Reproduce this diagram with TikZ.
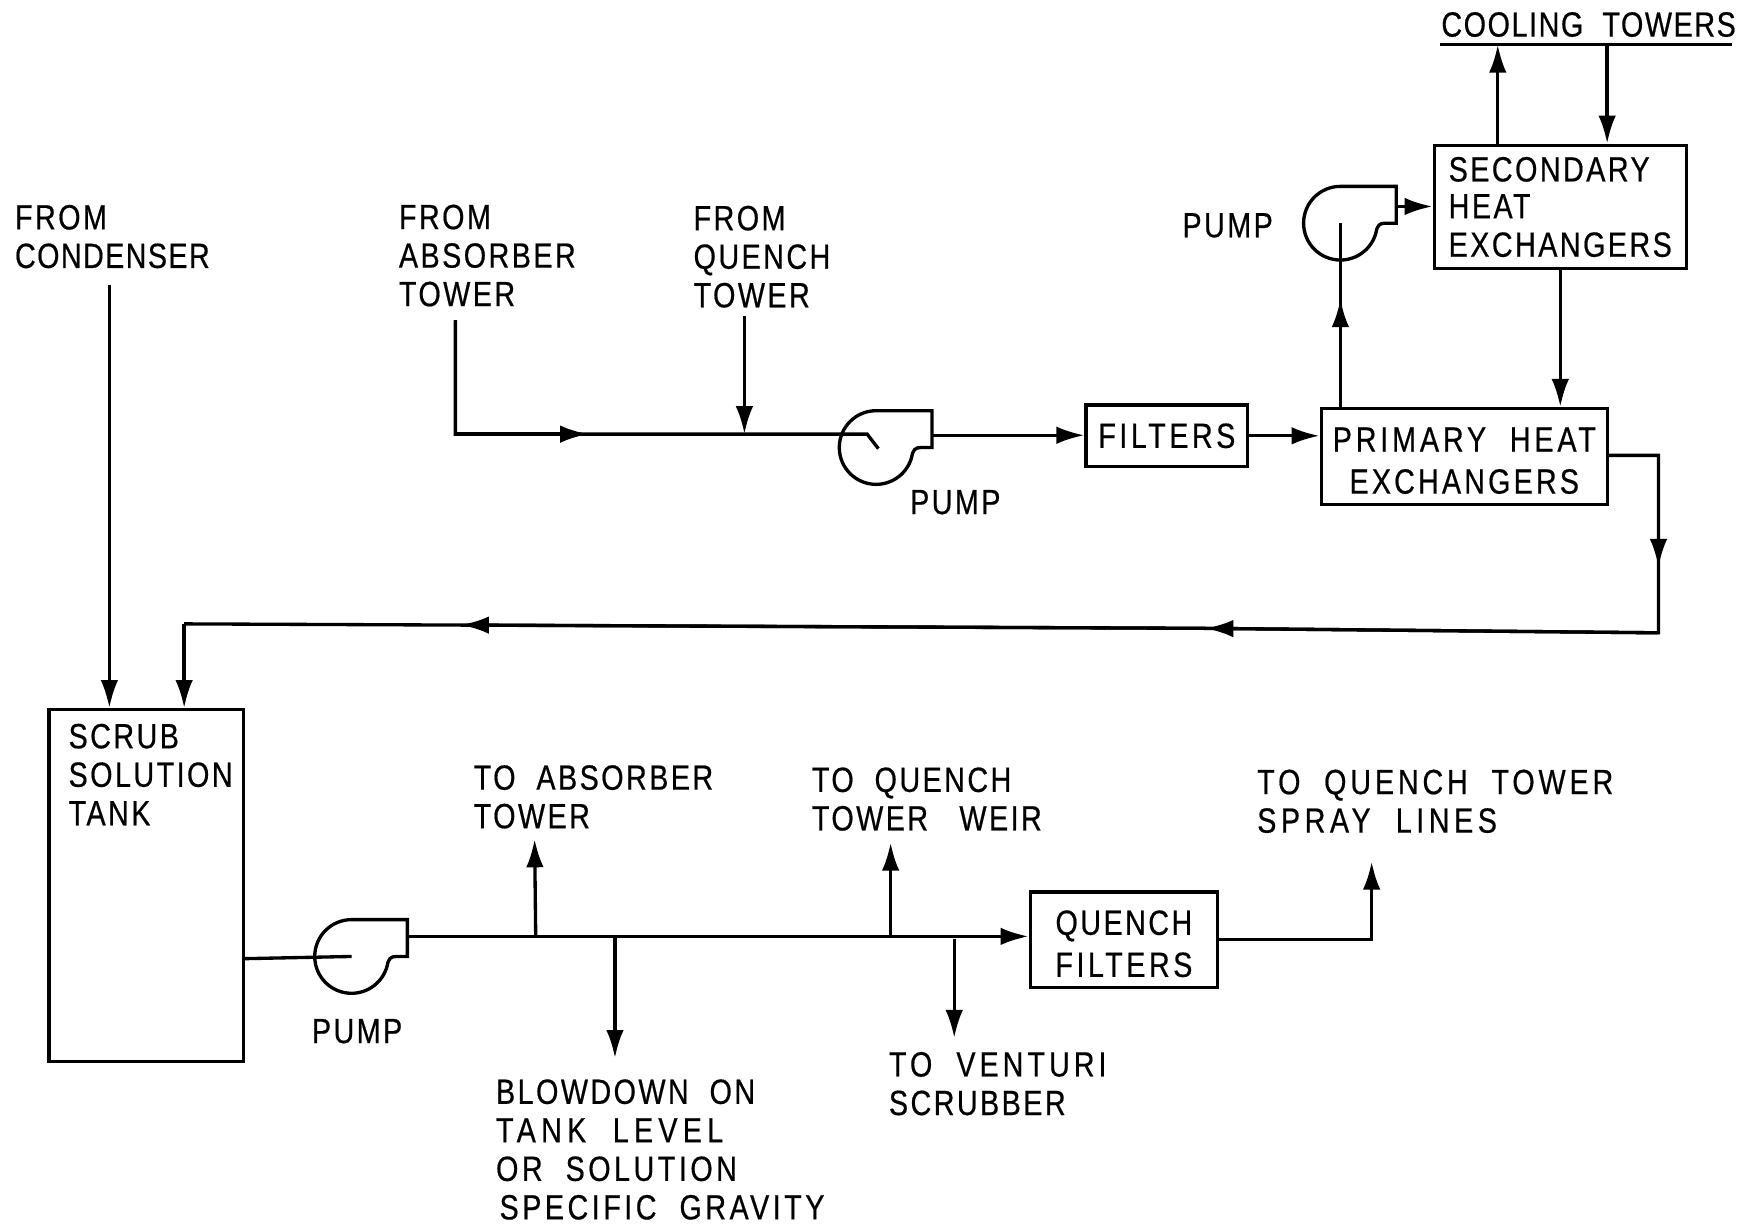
\documentclass[tikz,border=0pt]{standalone}
\usepackage{fontspec}
\setmainfont[FakeStretch=0.82,FakeBold=0.5,LetterSpace=7,WordSpace=2]{Liberation Sans}
\usetikzlibrary{arrows.meta}
\newcommand{\spreadtext}[2]{{\addfontfeature{LetterSpace=#1}#2}}
\newcommand{\topstrut}{\rule{0pt}{9.3pt}}
\begin{document}
\begin{tikzpicture}[
	x=0.0112cm, y=0.0112cm,
	line width=0.95pt,
	every node/.style={ font=\fontsize{10}{11}\selectfont },
	tag/.style={ align=left, anchor=west, inner sep=0pt },
	unit/.style={ draw, align=center, inner sep=0pt },
	flow/.style={ -{Latex[length=8pt,width=5pt]} },
	pumpbody/.pic={
		\draw (0,33) arc (90:345:33) .. controls (33,-2) and (35,0) .. (40,0) -- (50,0) -- (50,33) -- cycle;
		\coordinate (-eye) at (0,0);
	}
]

\useasboundingbox (0,0) rectangle (1568,-1099);

\node at (1398,-185.5) (secondary) [unit,align=left,minimum width=2.53cm,minimum height=1.24cm] {SECONDARY\\[-0.5pt]HEAT\\EXCHANGERS};
\node at (1312,-409) (primary) [unit,minimum width=2.87cm,minimum height=0.96cm] {\topstrut\spreadtext{11}{PRIMARY HEAT}\\[1pt]\spreadtext{9}{EXCHANGERS}};
\node at (1045.5,-390.5) (filters) [unit,minimum width=1.62cm,minimum height=0.62cm] {\spreadtext{10}{FILTERS}};
\node at (1007,-842) (quench) [unit,minimum width=1.88cm,minimum height=0.96cm] {\topstrut QUENCH\\[1pt]\spreadtext{10}{FILTERS}};
\node at (131,-793.5) (tank) [unit,minimum width=1.95cm,minimum height=3.53cm] {};

\node at (60,-694) (tanktag) [tag] {SCRUB\\SOLUTION\\TANK};
\node at (12,-212) (condenser) [tag] {FROM\\\spreadtext{4}{CONDENSER}};
\node at (356,-229) (absorber) [tag] {FROM\\ABSORBER\\TOWER};
\node at (620,-230) (fromquench) [tag] {FROM\\QUENCH\\TOWER};
\node at (1290,-22) (cooling) [tag] {\spreadtext{4.5}{COOLING TOWERS}};
\node at (1058,-202) (pumpbtag) [tag] {PUMP};
\node at (814,-450) (pumpatag) [tag] {PUMP};
\node at (278,-924) (pumpctag) [tag] {PUMP};
\node at (423,-714) (toabsorber) [tag] {TO ABSORBER\\TOWER};
\node at (726,-716) (toweir) [tag] {TO QUENCH\\TOWER\hspace{0.3em} WEIR};
\node at (1125,-718) (tospray) [tag] {\spreadtext{11}{TO QUENCH TOWER}\\\spreadtext{13}{SPRAY LINES}};
\node at (443,-1030) (blowdown) [tag] {BLOWDOWN ON\\\spreadtext{15}{TANK LEVEL}\\\spreadtext{10}{OR SOLUTION}\\\hspace*{1pt}\spreadtext{10}{SPECIFIC GRAVITY}};
\node at (795,-971) (toventuri) [tag] {\spreadtext{11.5}{TO VENTURI}\\SCRUBBER};

\pic (pumpa) at (785,-401) {pumpbody};
\pic (pumpb) at (1201,-200) {pumpbody};
\pic (pumpc) at (315,-857) {pumpbody};

\coordinate (coolleft) at (1290,-40);
\coordinate (coolright) at (1552,-40);
\coordinate (coolup) at (1342,-40);
\coordinate (cooldown) at (1440,-40);
\coordinate (condstart) at (98,-255);
\coordinate (absstart) at (408,-287);
\coordinate (absmid) at (527,-389);
\coordinate (quenchstart) at (667,-283);
\coordinate (quenchjoin) at (667,-389);
\coordinate (pumpain) at (777,-389);
\coordinate (pumpaout) at (835,-390);
\coordinate (pumpbmid) at (1201,-268);
\coordinate (pumpbout) at (1251,-185);
\coordinate (primaryout) at (1440,-408);
\coordinate (riserturn) at (1486,-408);
\coordinate (risermid) at (1486,-508);
\coordinate (returnright) at (1486,-567);
\coordinate (returnmida) at (1080,-563);
\coordinate (returnmidb) at (413,-560);
\coordinate (returnleft) at (165,-559);
\coordinate (tankout) at (218,-859);
\coordinate (pumpcout) at (366,-839);
\coordinate (headbranch) at (480,-839);
\coordinate (headup) at (479,-752);
\coordinate (blowbranch) at (551,-840);
\coordinate (blowend) at (551,-948);
\coordinate (weirbranch) at (798,-840);
\coordinate (weirup) at (798,-755);
\coordinate (ventbranch) at (855,-841);
\coordinate (ventend) at (855,-930);
\coordinate (sprayend) at (1229,-772);

\draw (coolleft) -- (coolright);
\draw[flow] (secondary.north -| coolup) -- (coolup);
\draw[flow] (cooldown) -- (secondary.north -| cooldown);
\draw[flow] (secondary.south) -- (primary.north -| secondary.south);
\draw[flow] (pumpbout) -- (secondary.west |- pumpbout);
\draw (primary.north -| pumpb-eye) -- (pumpb-eye);
\draw[flow] (primary.north -| pumpbmid) -- (pumpbmid);
\draw[flow] (filters.east) -- (primary.west |- filters.east);
\draw[flow] (pumpaout) -- (filters.west |- pumpaout);
\draw (absstart) |- (pumpain) -- (787,-402);
\draw[flow] (absstart) |- (absmid);
\draw[flow] (quenchstart) -- (quenchjoin);
\draw[flow] (condstart) -- (tank.north -| condstart);
\draw (primaryout) -- (riserturn) -- (returnright) -- (returnmida) -- (returnleft);
\draw[flow] (riserturn) -- (risermid);
\draw[flow] (returnright) -- (returnmida);
\draw[flow] (returnmida) -- (returnmidb);
\draw[flow] (returnleft) -- (tank.north -| returnleft);
\draw (tankout) -- (pumpc-eye);
\draw[flow] (pumpcout) -- (quench.west |- pumpcout);
\draw[flow] (headbranch) -- (headup);
\draw[flow] (blowbranch) -- (blowend);
\draw[flow] (weirbranch) -- (weirup);
\draw[flow] (ventbranch) -- (ventend);
\draw[flow] (quench.east) -| (sprayend);

\end{tikzpicture}
\end{document}
